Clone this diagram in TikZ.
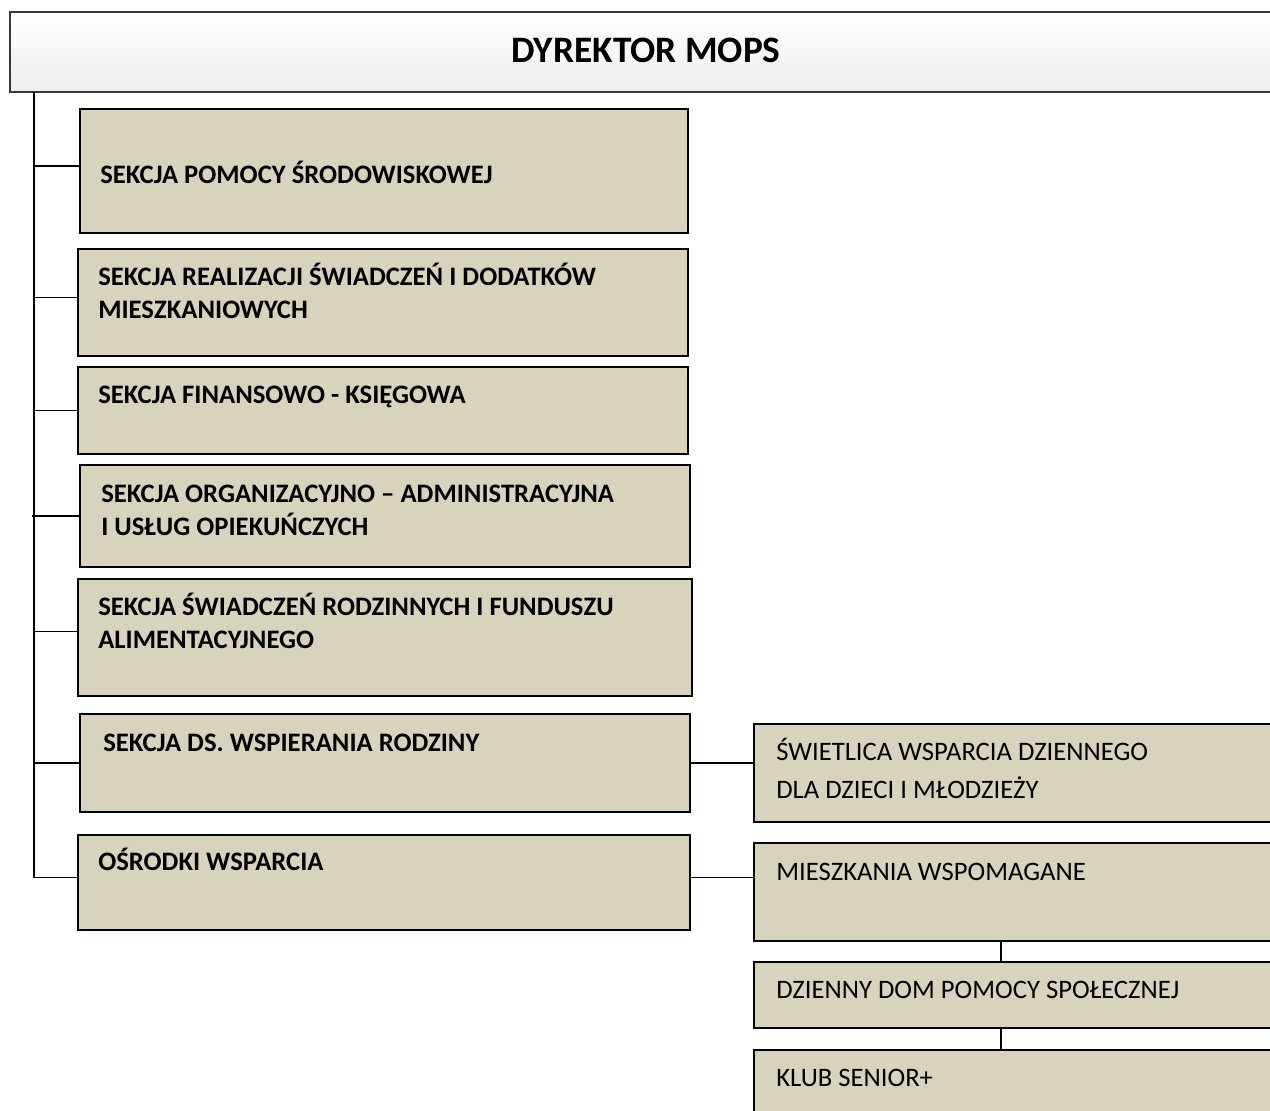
\documentclass[tikz,border=0pt]{standalone}
\usepackage{fontspec}
\setmainfont{Carlito}
\usetikzlibrary{fit,calc}
\definecolor{boxfill}{RGB}{216,211,188}
\definecolor{hdline}{RGB}{55,55,55}
\tikzset{
  box/.style={draw=black, line width=2pt, fill=boxfill, inner sep=0pt},
  rbox/.style={draw=black, line width=1.5pt, fill=boxfill, inner sep=0pt},
  hdr/.style={draw=hdline, line width=2pt, top color=white, bottom color=gray!13, inner sep=0pt},
  btxt/.style={font=\bfseries\fontsize{20}{24.75}\selectfont, anchor=base west, align=left, inner sep=0pt},
  rtxt/.style={font=\fontsize{20}{28.5}\selectfont, anchor=base west, align=left, inner sep=0pt},
  htxt/.style={font=\bfseries\fontsize{28}{32}\selectfont, inner sep=0pt},
  conn/.style={draw=black, line width=1.4pt}
}
\begin{document}
\begin{tikzpicture}[x=0.75pt, y=-0.75pt]
\useasboundingbox (0,0) rectangle (1270,1110);
\clip (0,0) rectangle (1270,1110);
% header
\node[hdr, fit={(10,12)(1290,92)}] (hd) {};
\node[htxt] (hdt) at (646,50) {DYREKTOR MOPS};
% left column
\node[box, fit={(80,109)(688,233)}] (s1) {};
\node[btxt] (t1) at (100,183.5) {SEKCJA POMOCY ŚRODOWISKOWEJ};
\node[box, fit={(78,249)(688,356)}] (s2) {};
\node[btxt] (t2) at (98,318.5) {SEKCJA REALIZACJI ŚWIADCZEŃ I DODATKÓW\\MIESZKANIOWYCH};
\node[box, fit={(78,367)(688,454)}] (s3) {};
\node[btxt] (t3) at (98,403.5) {SEKCJA FINANSOWO - KSIĘGOWA};
\node[box, fit={(80,465)(690,567)}] (s4) {};
\node[btxt] (t4) at (101,535.5) {SEKCJA ORGANIZACYJNO – ADMINISTRACYJNA\\I USŁUG OPIEKUŃCZYCH};
\node[box, fit={(78,579)(692,696)}] (s5) {};
\node[btxt] (t5) at (98,648.5) {SEKCJA ŚWIADCZEŃ RODZINNYCH I FUNDUSZU\\ALIMENTACYJNEGO};
\node[box, fit={(80,714)(690,812)}] (s6) {};
\node[btxt] (t6) at (103,751.5) {SEKCJA DS. WSPIERANIA RODZINY};
\node[box, fit={(78,835)(690,930)}] (s7) {};
\node[btxt] (t7) at (98,870.5) {OŚRODKI WSPARCIA};
% right column
\node[box, fit={(754,724)(1290,822)}] (r1) {};
\node[rtxt] (u1) at (776,798.5) {ŚWIETLICA WSPARCIA DZIENNEGO\\DLA DZIECI I MŁODZIEŻY};
\node[rbox, fit={(754,843)(1290,941)}] (r2) {};
\node[rtxt] (u2) at (776,880.5) {MIESZKANIA WSPOMAGANE};
\node[rbox, fit={(754,962)(1290,1028)}] (r3) {};
\node[rtxt] (u3) at (776,998.5) {DZIENNY DOM POMOCY SPOŁECZNEJ};
\node[rbox, fit={(754,1050)(1290,1130)}] (r4) {};
\node[rtxt] (u4) at (776,1086.5) {KLUB SENIOR+};
% trunk
\coordinate (trunk) at (34,92);
\coordinate (vx) at (1001,0);
\draw[conn] (trunk) |- ([yshift=3.75pt]s7.west);
\draw[conn] ([yshift=3.75pt]s1.west) -- ([yshift=3.75pt]s1.west -| trunk);
\draw[conn] ([yshift=3.75pt]s2.west) -- ([yshift=3.75pt]s2.west -| trunk);
\draw[conn] (s3.west) -- (s3.west -| trunk);
\draw[conn] (s4.west) -- ([xshift=-1.5pt]s4.west -| trunk);
\draw[conn] ([yshift=4.5pt]s5.west) -- ([yshift=4.5pt]s5.west -| trunk);
\draw[conn] (s6.west) -- (s6.west -| trunk);
% to right column
\draw[conn] (s6.east) -- (s6.east -| r1.west);
\draw[conn] ([yshift=3.75pt]s7.east) -- ([yshift=3.75pt]s7.east -| r2.west);
\draw[conn] (r2.south -| vx) -- (r3.north -| vx);
\draw[conn] (r3.south -| vx) -- (r4.north -| vx);
\end{tikzpicture}
\end{document}
